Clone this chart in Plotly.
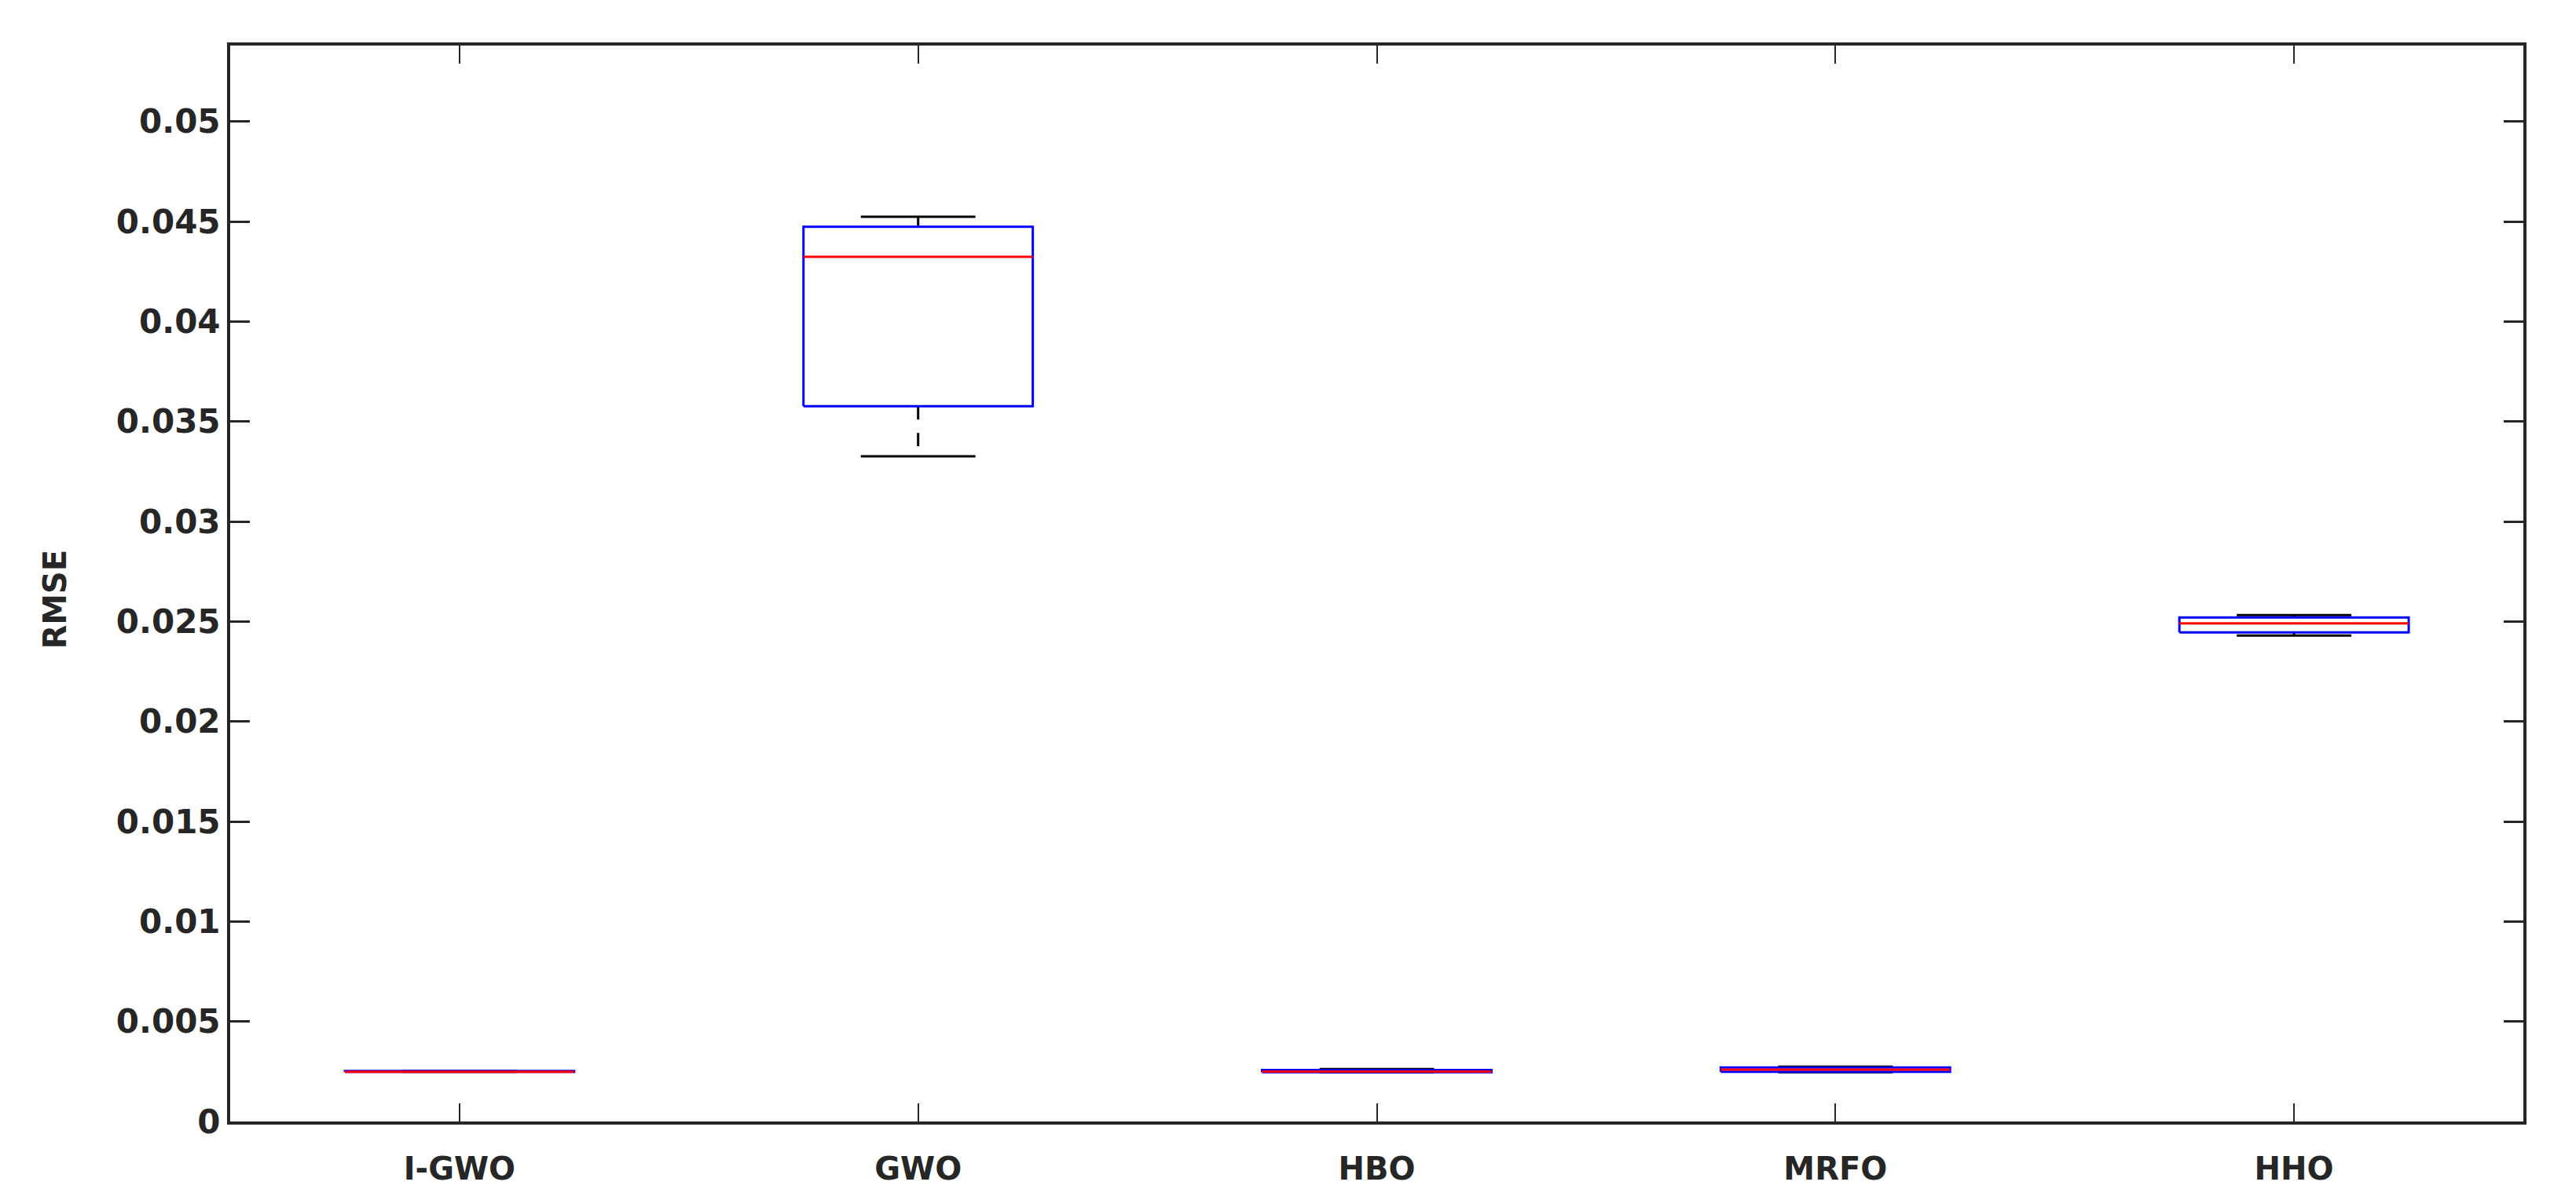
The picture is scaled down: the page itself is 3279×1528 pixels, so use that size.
import plotly.graph_objects as go

# boxplot statistics (RMSE per algorithm)
algorithms = ["I-GWO", "GWO", "HBO", "MRFO", "HHO"]
lower_whisker = [0.00248, 0.03326, 0.00246, 0.00246, 0.02430]
q1 = [0.00248, 0.03577, 0.00246, 0.00248, 0.02446]
median = [0.00248, 0.04324, 0.00249, 0.00259, 0.02491]
q3 = [0.00252, 0.04474, 0.00257, 0.00270, 0.02520]
upper_whisker = [0.00252, 0.04524, 0.00262, 0.00274, 0.02532]

y_ticks = [0, 0.005, 0.01, 0.015, 0.02, 0.025, 0.03, 0.035, 0.04, 0.045, 0.05]
y_tick_text = ["0", "0.005", "0.01", "0.015", "0.02", "0.025", "0.03",
               "0.035", "0.04", "0.045", "0.05"]

box_half = 0.25
cap_half = 0.125
ink = "#262626"
font = "DejaVu Sans"

positions = list(range(1, len(algorithms) + 1))

bx, by = [], []
mx, my = [], []
wx, wy = [], []
cx, cy = [], []
for p, lo, a, m, b, hi in zip(positions, lower_whisker, q1, median, q3, upper_whisker):
    bx += [p - box_half, p + box_half, p + box_half, p - box_half, p - box_half, None]
    by += [a, a, b, b, a, None]
    mx += [p - box_half, p + box_half, None]
    my += [m, m, None]
    wx += [p, p, None, p, p, None]
    wy += [b, hi, None, a, lo, None]
    cx += [p - cap_half, p + cap_half, None, p - cap_half, p + cap_half, None]
    cy += [hi, hi, None, lo, lo, None]

fig = go.Figure()
fig.add_trace(go.Scatter(x=wx, y=wy, mode="lines",
                         line=dict(color="black", width=3, dash="17px,17px")))
fig.add_trace(go.Scatter(x=cx, y=cy, mode="lines",
                         line=dict(color="black", width=3)))
fig.add_trace(go.Scatter(x=bx, y=by, mode="lines",
                         line=dict(color="#0000ff", width=3)))
fig.add_trace(go.Scatter(x=mx, y=my, mode="lines",
                         line=dict(color="#ff0000", width=3)))

fig.update_layout(
    width=3279, height=1528,
    margin=dict(l=293, r=67, t=58, b=100),
    paper_bgcolor="white", plot_bgcolor="white",
    showlegend=False,
    font=dict(family=font, color=ink),
)
fig.update_xaxes(
    range=[0.5, 5.5], tickvals=positions, ticktext=algorithms,
    ticks="inside", ticklen=23, tickwidth=2, tickcolor=ink,
    showline=True, linewidth=4, linecolor=ink, mirror="ticks",
    showgrid=False, zeroline=False,
    tickfont=dict(family=font, size=40, color=ink, weight="bold"),
    ticklabelstandoff=22,
)
fig.update_yaxes(
    range=[0, 0.0538], tickvals=y_ticks, ticktext=y_tick_text,
    ticks="inside", ticklen=25, tickwidth=3, tickcolor=ink,
    showline=True, linewidth=4, linecolor=ink, mirror="ticks",
    showgrid=False, zeroline=False,
    tickfont=dict(family=font, size=42, color=ink, weight="bold"),
)
fig.add_annotation(
    text="RMSE", textangle=-90, showarrow=False,
    xref="paper", yref="paper", x=0, y=0.485, xshift=-223,
    xanchor="center", yanchor="middle",
    font=dict(family=font, size=40, color=ink, weight="bold"),
)

fig.write_html("out.html", config={"displayModeBar": False},
               post_script="document.body.style.margin='0';")
